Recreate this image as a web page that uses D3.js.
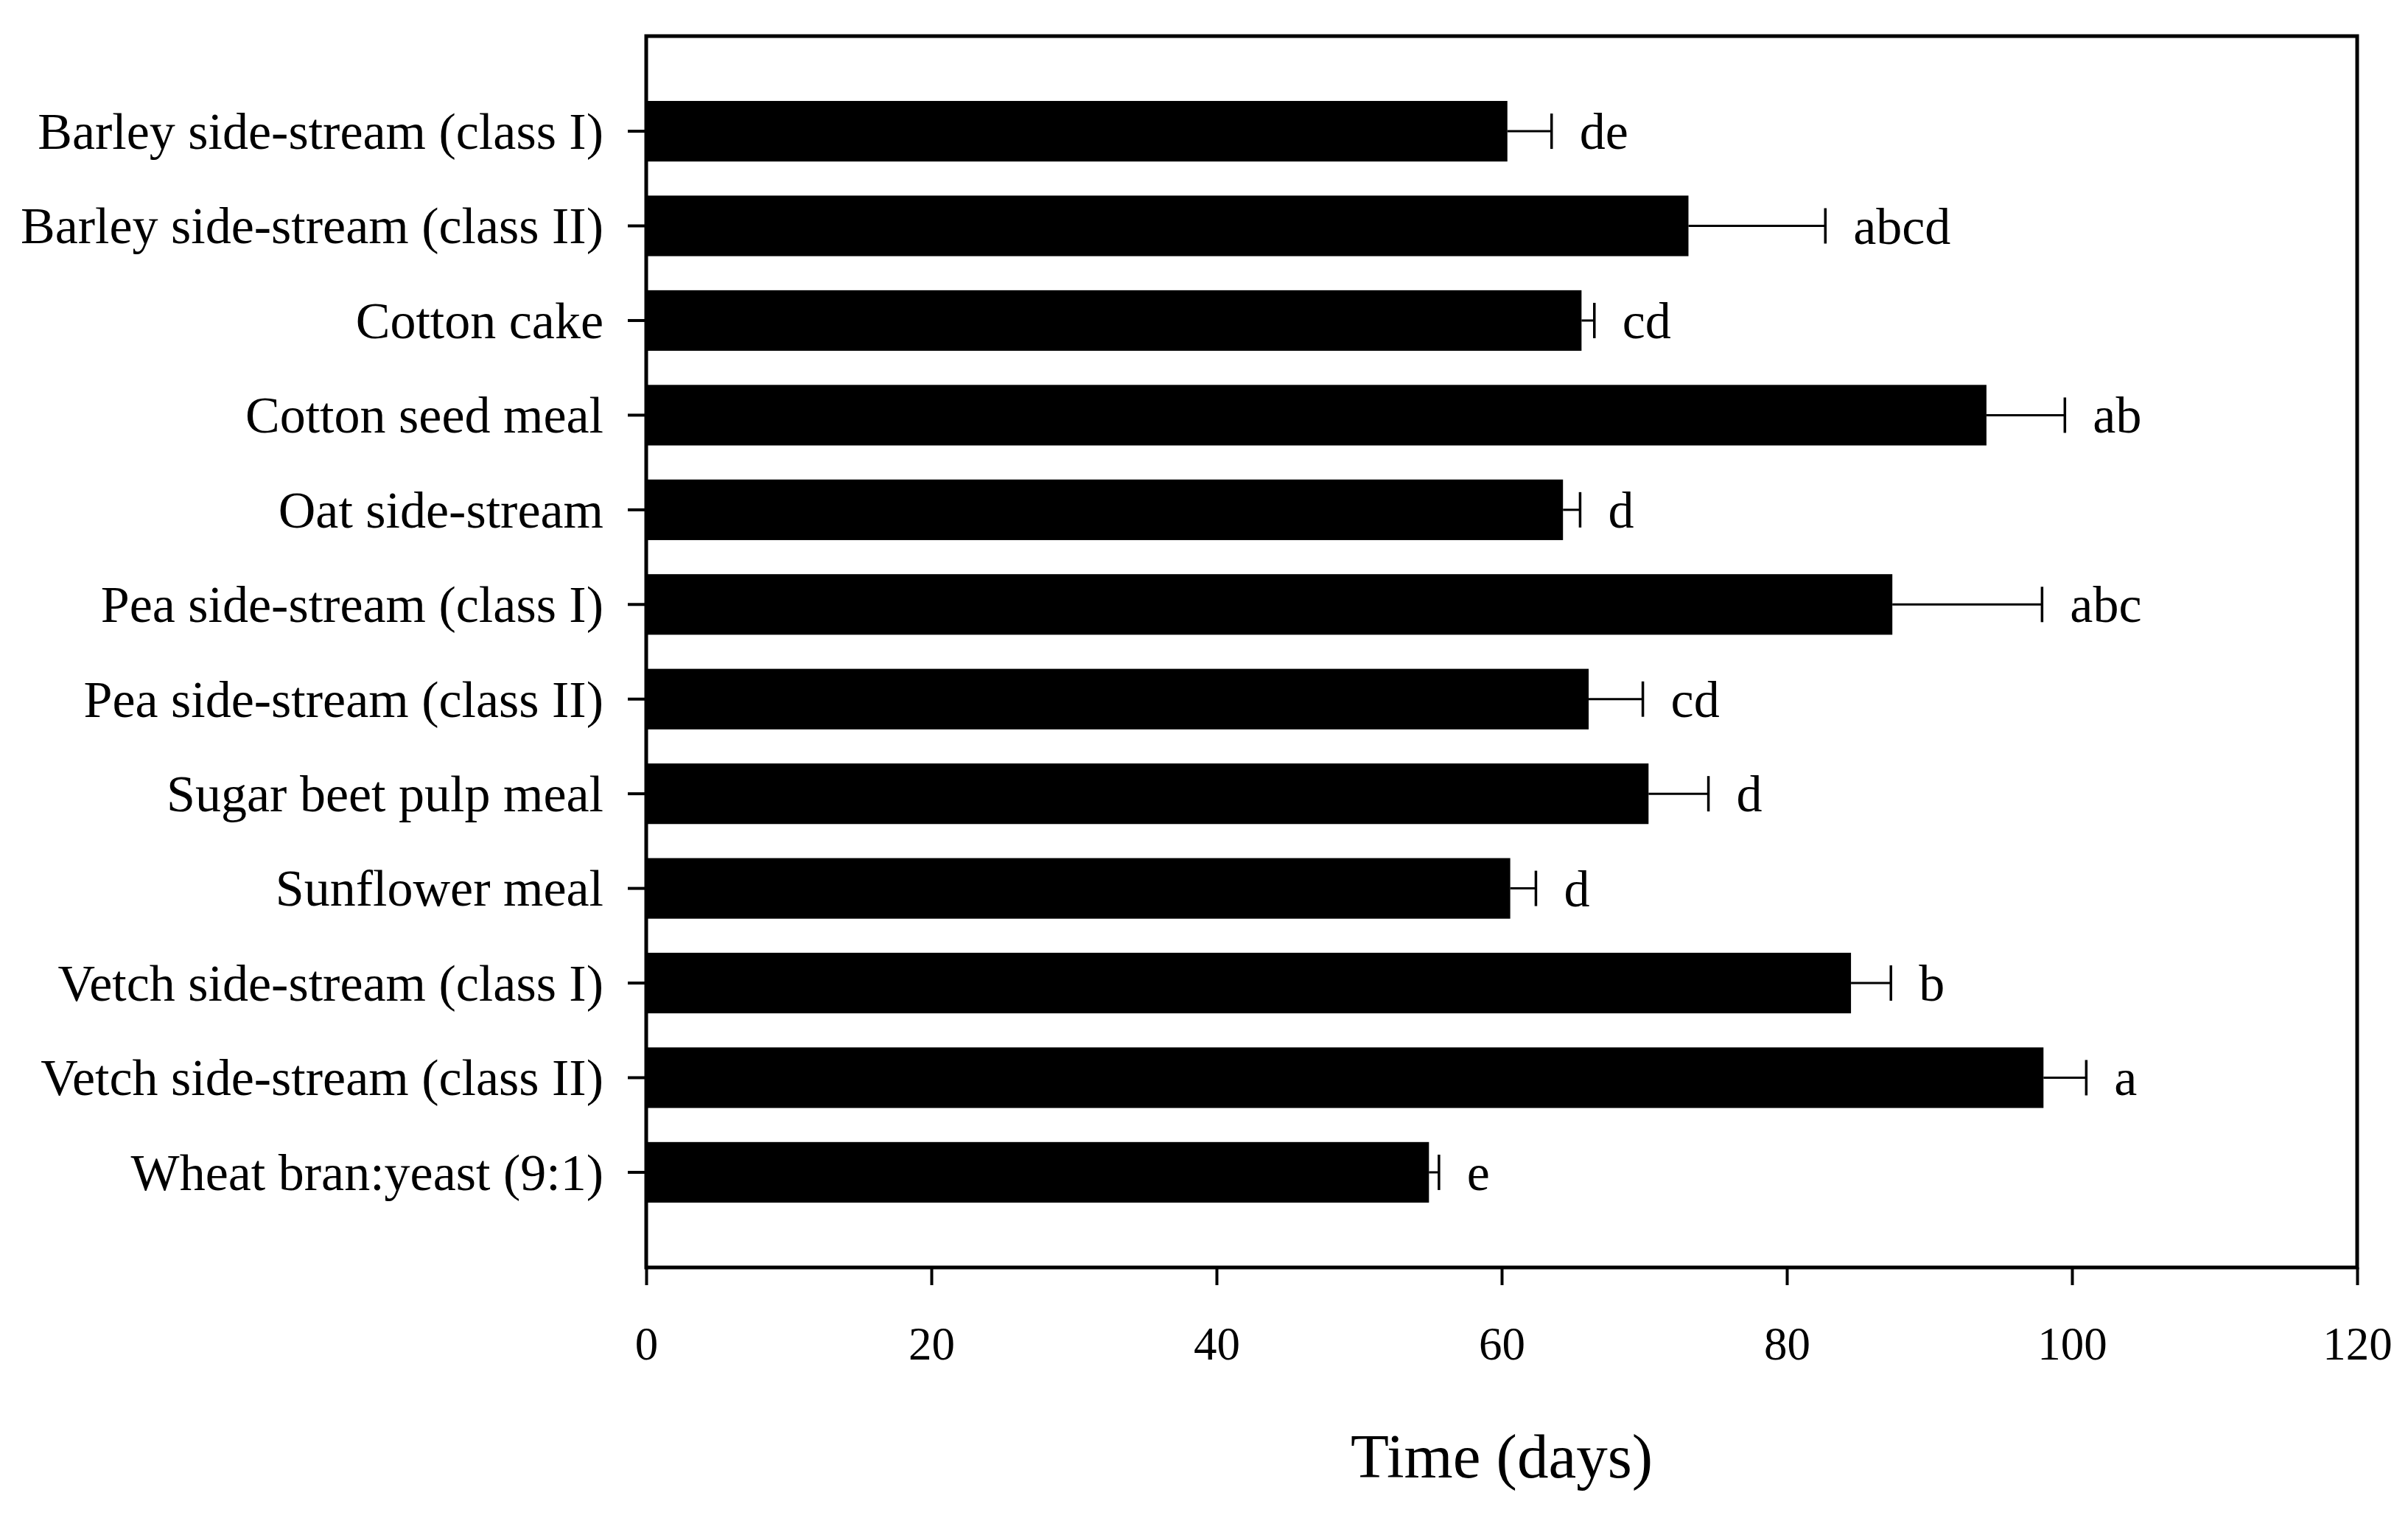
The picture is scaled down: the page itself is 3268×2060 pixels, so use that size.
<!DOCTYPE html>
<html>
<head>
<meta charset="utf-8">
<script src="https://cdn.jsdelivr.net/npm/d3@7"></script>
<style>
  html, body { margin: 0; padding: 0; background: #fff; }
  svg { display: block; }
  text { font-family: "Liberation Serif", "Times New Roman", serif; fill: #000; }
</style>
</head>
<body>
<svg id="chart" width="3268" height="2060"></svg>
<script>
// ---- data ----
const categories = [
  "Barley side-stream (class I)",
  "Barley side-stream (class II)",
  "Cotton cake",
  "Cotton seed meal",
  "Oat side-stream",
  "Pea side-stream (class I)",
  "Pea side-stream (class II)",
  "Sugar beet pulp meal",
  "Sunflower meal",
  "Vetch side-stream (class I)",
  "Vetch side-stream (class II)",
  "Wheat bran:yeast (9:1)"
];
const meanDays = [60.4, 73.1, 65.6, 94.0, 64.3, 87.4, 66.1, 70.3, 60.6, 84.5, 98.0, 54.9];
const errDays  = [3.1, 9.6, 0.9, 5.5, 1.2, 10.5, 3.8, 4.2, 1.8, 2.8, 3.0, 0.7];
const letters  = ["de", "abcd", "cd", "ab", "d", "abc", "cd", "d", "d", "b", "a", "e"];
const xTicks   = [0, 20, 40, 60, 80, 100, 120];
const xTitle   = "Time (days)";

(function () {
  // ---- layout ----
  const pL = 877, pR = 3199, pT = 49, pB = 1720;
  const svg = d3.select("#chart");

  const x = d3.scaleLinear().domain([0, 120]).range([pL, pR]);
  const y = d3.scaleBand().domain(categories).range([pT, pB])
    .paddingInner(0.36).paddingOuter(0.685);

  const rows = categories.map((c, i) => ({ c, v: meanDays[i], e: errDays[i], l: letters[i] }));
  const cy = d => y(d.c) + y.bandwidth() / 2;

  // bars
  svg.append("g").selectAll("rect").data(rows).join("rect")
    .attr("x", x(0))
    .attr("y", d => y(d.c))
    .attr("width", d => x(d.v) - x(0))
    .attr("height", y.bandwidth())
    .attr("fill", "#000");

  // error bars
  const eg = svg.append("g").attr("stroke", "#000");
  eg.selectAll("line.h").data(rows).join("line").attr("class", "h")
    .attr("x1", d => x(d.v)).attr("x2", d => x(d.v + d.e))
    .attr("y1", cy).attr("y2", cy)
    .attr("stroke-width", 3);
  eg.selectAll("line.cap").data(rows).join("line").attr("class", "cap")
    .attr("x1", d => x(d.v + d.e)).attr("x2", d => x(d.v + d.e))
    .attr("y1", d => cy(d) - 24).attr("y2", d => cy(d) + 24)
    .attr("stroke-width", 3.5);

  // significance letters
  svg.append("g").selectAll("text").data(rows).join("text")
    .attr("x", d => x(d.v + d.e) + 38)
    .attr("y", d => cy(d) + 24)
    .attr("font-size", 70)
    .text(d => d.l);

  // x axis
  const xAxis = svg.append("g").attr("transform", `translate(0,${pB})`)
    .call(d3.axisBottom(x).tickValues(xTicks).tickSize(24).tickFormat(d3.format("d")));
  xAxis.select(".domain").remove();
  xAxis.selectAll(".tick line").attr("stroke-width", 4);
  xAxis.selectAll(".tick text")
    .attr("y", 125).attr("dy", 0)
    .attr("font-size", 63)
    .attr("font-family", "Liberation Serif");

  // y axis
  const yAxis = svg.append("g").attr("transform", `translate(${pL},0)`)
    .call(d3.axisLeft(y).tickSize(25).tickPadding(33));
  yAxis.select(".domain").remove();
  yAxis.selectAll(".tick line").attr("stroke-width", 4);
  yAxis.selectAll(".tick text")
    .attr("dy", "0.34em")
    .attr("font-size", 70)
    .attr("font-family", "Liberation Serif");

  // frame
  svg.append("rect")
    .attr("x", pL).attr("y", pT)
    .attr("width", pR - pL).attr("height", pB - pT)
    .attr("fill", "none").attr("stroke", "#000").attr("stroke-width", 5);

  // x title
  svg.append("text")
    .attr("x", (pL + pR) / 2)
    .attr("y", 2005)
    .attr("text-anchor", "middle")
    .attr("font-size", 85)
    .text(xTitle);
})();
</script>
</body>
</html>
